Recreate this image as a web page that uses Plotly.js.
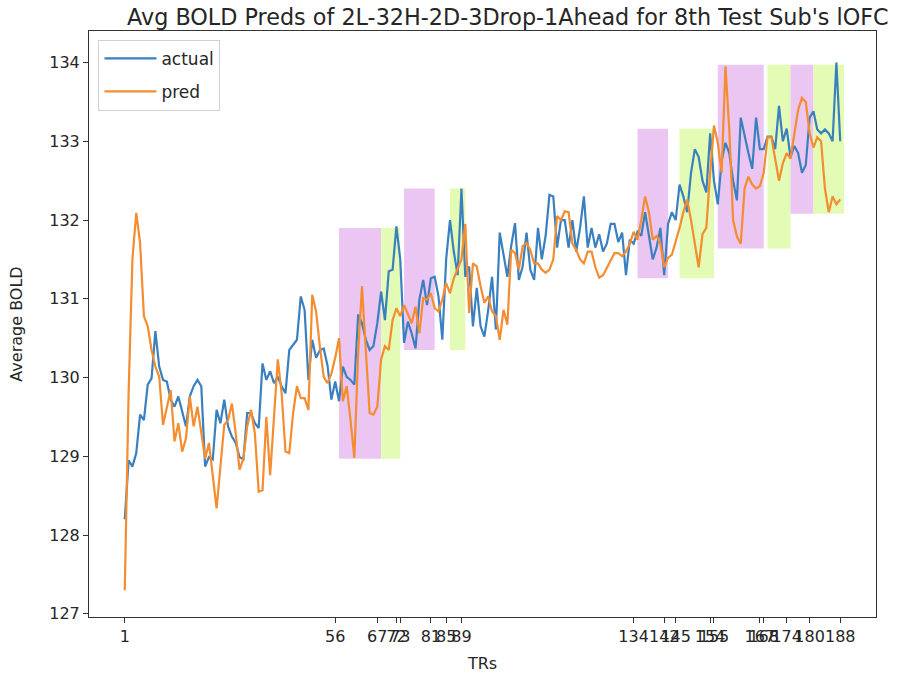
<!DOCTYPE html>
<html>
<head>
<meta charset="utf-8">
<script src="https://cdn.plot.ly/plotly-3.0.1.min.js"></script>
<style>html,body{margin:0;padding:0;background:#fff;}#chart{width:902px;height:686px;}</style>
</head>
<body>
<div id="chart"></div>
<script>
// TR index (1..188)
const trs = Array.from({length: 188}, (_, k) => k + 1);

const actual = [
128.20,128.95,128.87,129.04,129.53,129.46,129.91,129.99,130.59,130.14,
129.97,129.95,129.72,129.63,129.76,129.55,129.38,129.76,129.89,129.97,
129.89,128.87,128.99,128.96,129.59,129.42,129.72,129.38,129.25,129.17,
128.99,128.96,129.55,129.55,129.42,129.36,130.18,129.97,130.08,129.93,
130.01,129.89,129.80,130.35,130.42,130.48,131.03,130.86,129.97,130.48,
130.25,130.35,130.37,130.15,129.72,129.95,129.70,130.14,130.01,129.97,
129.91,130.80,130.69,130.48,130.35,130.40,130.69,131.09,130.73,131.35,
131.37,131.92,131.50,130.44,130.71,130.56,130.37,130.99,131.24,130.92,
131.26,131.28,131.03,130.48,131.50,132.00,131.60,131.30,132.40,131.28,
131.41,130.65,131.14,130.65,130.52,130.86,131.28,130.61,131.84,131.54,
131.28,131.67,131.96,131.24,131.41,131.84,131.37,131.24,131.90,131.50,
131.80,132.32,132.30,131.65,132.00,132.00,131.65,132.00,131.60,131.90,
132.30,131.65,131.90,131.65,131.82,131.60,131.70,131.95,131.95,131.72,
131.84,131.30,131.75,131.70,131.85,131.80,132.10,131.80,131.50,131.65,
131.90,131.30,131.95,132.10,132.00,132.45,132.30,132.10,132.60,132.90,
132.80,132.50,132.35,133.10,132.50,132.20,132.75,132.98,132.85,132.50,
132.25,133.30,133.05,132.85,132.65,133.30,132.90,132.90,133.06,133.06,
132.90,133.45,133.00,133.16,132.80,132.94,132.85,132.60,132.70,133.30,
133.38,133.15,133.10,133.15,133.10,133.00,134.00,133.00
];

const pred = [
127.30,129.80,131.50,132.09,131.71,130.78,130.65,130.35,130.14,130.01,
129.40,129.63,129.84,129.19,129.42,129.06,129.23,129.76,129.38,129.63,
129.29,128.97,129.17,128.74,128.34,128.87,129.40,129.46,129.67,129.29,
128.83,128.97,129.38,129.59,129.29,128.55,128.57,129.50,128.76,129.50,
130.23,129.80,129.06,129.04,129.55,129.89,129.74,129.74,129.59,131.05,
130.84,130.39,130.01,129.93,130.05,130.25,130.50,129.70,129.89,129.46,
128.98,130.31,131.16,130.35,129.55,129.53,129.63,130.23,130.40,130.35,
130.73,130.88,130.78,130.92,130.80,130.69,130.90,130.56,131.01,130.99,
131.07,130.88,130.84,130.99,131.20,131.07,131.26,131.37,131.50,131.95,
130.82,131.45,131.41,131.16,130.95,131.03,130.84,130.78,130.48,130.86,
130.67,131.62,131.58,131.37,131.67,131.71,131.62,131.45,131.45,131.37,
131.33,131.37,131.50,132.05,132.00,132.11,132.10,131.70,131.62,131.50,
131.45,131.60,131.60,131.40,131.27,131.30,131.40,131.48,131.58,131.58,
131.54,131.60,131.70,131.85,131.75,132.00,132.30,132.10,131.75,131.80,
131.70,131.40,131.52,131.56,131.72,131.90,132.10,132.26,132.00,131.70,
131.40,131.82,131.90,132.60,133.20,132.98,132.60,133.95,133.15,132.00,
131.79,131.70,132.40,132.55,132.45,132.40,132.43,132.60,133.05,133.05,
132.75,132.50,132.72,132.85,132.78,133.10,133.40,133.55,133.50,133.10,
132.92,133.05,133.00,132.40,132.10,132.30,132.20,132.26
];

// x tick positions / labels
const tickVals = [1, 56, 67, 72, 73, 81, 85, 89, 134, 142, 145, 154, 155, 167, 168, 174, 180, 188];
const tickText = tickVals.map(String);
const yTicks = [127, 128, 129, 130, 131, 132, 133, 134];

// shaded spans
const spanStart = [57, 68, 74, 86, 135, 146, 156, 169, 175, 181];
const spanEnd   = [68, 73, 82, 90, 143, 155, 168, 175, 181, 189];
const spanLow   = [128.97, 128.97, 130.35, 130.35, 131.26, 131.26, 131.64, 131.64, 132.08, 132.08];
const spanHigh  = [131.90, 131.90, 132.40, 132.40, 133.16, 133.16, 133.97, 133.97, 133.97, 133.97];
const spanKind  = ['m', 'g', 'm', 'g', 'm', 'g', 'm', 'g', 'm', 'g'];
const spanColors = {m: '#ebc6f2', g: '#e3fbb4'};

const shapes = spanStart.map((s, k) => ({
  type: 'rect', xref: 'x', yref: 'y', layer: 'below',
  x0: s, x1: spanEnd[k], y0: spanLow[k], y1: spanHigh[k],
  fillcolor: spanColors[spanKind[k]], line: {width: 0}
}));

const font = 'DejaVu Sans, Liberation Sans, sans-serif';

const traces = [
  {x: trs, y: actual, type: 'scatter', mode: 'lines', name: 'actual', legendgroup: 'a',
   line: {color: '#3a80c0', width: 2.2}},
  {x: trs, y: pred, type: 'scatter', mode: 'lines', name: 'pred', legendgroup: 'p',
   line: {color: '#f48c30', width: 2.2}}
];

const layout = {
  width: 902, height: 686,
  margin: {l: 89, r: 26, t: 31, b: 69},
  paper_bgcolor: '#fff', plot_bgcolor: '#fff',
  font: {family: font, size: 16, color: '#262626'},
  title: {text: "Avg BOLD Preds of 2L-32H-2D-3Drop-1Ahead for 8th Test Sub's lOFC",
          font: {family: font, size: 22.3, color: '#262626'},
          xref: 'container', x: 0.563, xanchor: 'center', y: 0.975, yanchor: 'middle'},
  xaxis: {
    range: [-8.35, 197.35], tickmode: 'array', tickvals: tickVals, ticktext: tickText,
    tickangle: 0, showgrid: false, zeroline: false,
    showline: true, mirror: true, linecolor: '#333', linewidth: 1,
    ticks: 'outside', ticklen: 5, tickcolor: '#333',
    tickfont: {size: 16},
    title: {text: 'TRs', font: {size: 16}, standoff: 12}
  },
  yaxis: {
    range: [126.96, 134.40], tickmode: 'array', tickvals: yTicks,
    showgrid: false, zeroline: false,
    showline: true, mirror: true, linecolor: '#333', linewidth: 1,
    ticks: 'outside', ticklen: 5, tickcolor: '#333',
    tickfont: {size: 16},
    title: {text: 'Average BOLD', font: {size: 16}, standoff: 22}
  },
  shapes: shapes,
  showlegend: true,
  legend: {x: 0.012, y: 0.985, xanchor: 'left', yanchor: 'top',
           bgcolor: 'rgba(255,255,255,0.85)', bordercolor: '#d0d0d0', borderwidth: 1,
           font: {size: 17}, itemwidth: 52, tracegroupgap: 8}
};

Plotly.newPlot('chart', traces, layout, {displayModeBar: false, staticPlot: true});
</script>
</body>
</html>
